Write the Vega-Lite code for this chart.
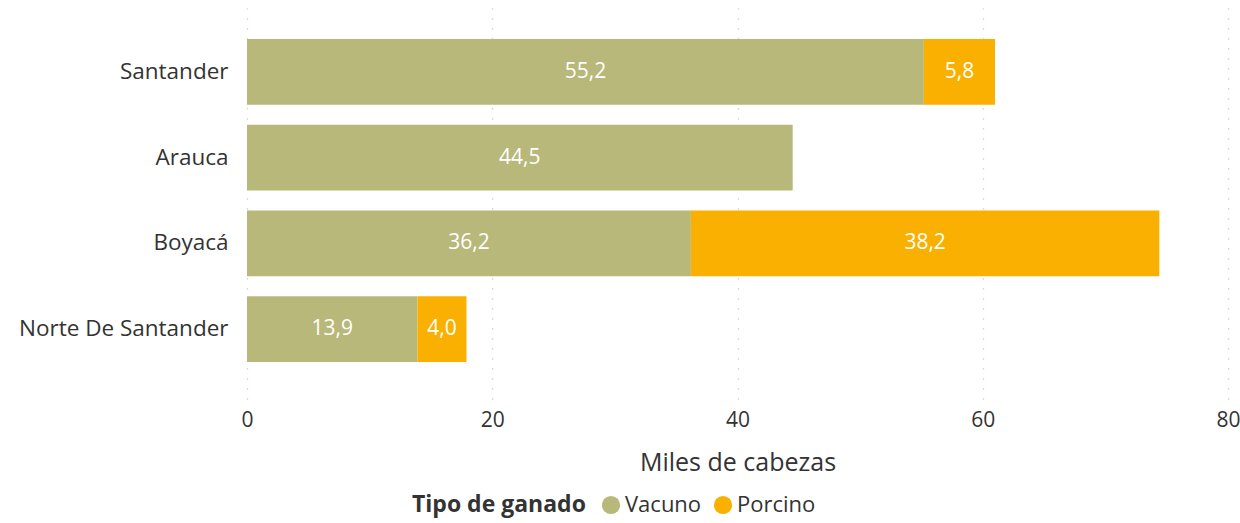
{
  "$schema": "https://vega.github.io/schema/vega-lite/v6.json",
  "autosize": {"type": "none"},
  "padding": {"left": 247, "top": 8, "right": 12, "bottom": 124},
  "width": 981,
  "height": 391,
  "background": "white",
  "config": {
    "font": "Open Sans",
    "view": {"stroke": null},
    "locale": {"number": {"decimal": ",", "thousands": ".", "grouping": [3], "currency": ["", ""]}}
  },
  "data": {
    "values": [
      {"Departamento": "Santander", "Tipo": "Vacuno", "orden": 1, "Valor": 55.2},
      {"Departamento": "Santander", "Tipo": "Porcino", "orden": 2, "Valor": 5.8},
      {"Departamento": "Arauca", "Tipo": "Vacuno", "orden": 1, "Valor": 44.5},
      {"Departamento": "Boyacá", "Tipo": "Vacuno", "orden": 1, "Valor": 36.2},
      {"Departamento": "Boyacá", "Tipo": "Porcino", "orden": 2, "Valor": 38.2},
      {"Departamento": "Norte De Santander", "Tipo": "Vacuno", "orden": 1, "Valor": 13.9},
      {"Departamento": "Norte De Santander", "Tipo": "Porcino", "orden": 2, "Valor": 4.0}
    ]
  },
  "encoding": {
    "y": {
      "field": "Departamento", "type": "nominal",
      "sort": ["Santander", "Arauca", "Boyacá", "Norte De Santander"],
      "scale": {"paddingInner": 0.233, "paddingOuter": 0.397, "align": 0.455},
      "axis": {"title": null, "domain": false, "ticks": false, "labelFontSize": 22.5, "labelColor": "#333333", "labelPadding": 19, "labelLimit": 400}
    },
    "x": {
      "field": "Valor", "type": "quantitative", "stack": "zero",
      "scale": {"domain": [0, 80], "nice": false},
      "axis": {
        "title": "Miles de cabezas", "titleFontSize": 25, "titleFontWeight": "normal", "titleColor": "#333333", "titlePadding": 20,
        "values": [0, 20, 40, 60, 80], "format": "d", "labelFlush": false,
        "domain": false, "ticks": false, "labelFontSize": 21, "labelColor": "#333333", "labelPadding": 10,
        "grid": true, "gridColor": "#c8c8c8", "gridDash": [1.3, 8.7], "gridWidth": 1.3
      }
    },
    "order": {"field": "orden", "type": "quantitative"}
  },
  "layer": [
    {
      "mark": {"type": "bar"},
      "encoding": {
        "color": {
          "field": "Tipo", "type": "nominal",
          "scale": {"domain": ["Vacuno", "Porcino"], "range": ["#B8B87A", "#F9B000"]},
          "legend": {
            "title": "Tipo de ganado", "orient": "none", "direction": "horizontal", "titleOrient": "left",
            "legendX": 165, "legendY": 486,
            "titleFontSize": 23, "titleFontWeight": "bold", "titleColor": "#333333", "titlePadding": 14,
            "labelFontSize": 22, "labelColor": "#333333", "labelOffset": 3,
            "symbolType": "circle", "symbolSize": 330, "symbolStrokeWidth": 0, "columnPadding": 10
          }
        }
      }
    },
    {
      "mark": {"type": "text", "color": "white", "fontSize": 21, "align": "center", "baseline": "middle"},
      "encoding": {
        "x": {"field": "Valor", "type": "quantitative", "stack": "zero", "bandPosition": 0.5},
        "text": {"field": "Valor", "type": "quantitative", "format": ".1f"}
      }
    }
  ]
}
